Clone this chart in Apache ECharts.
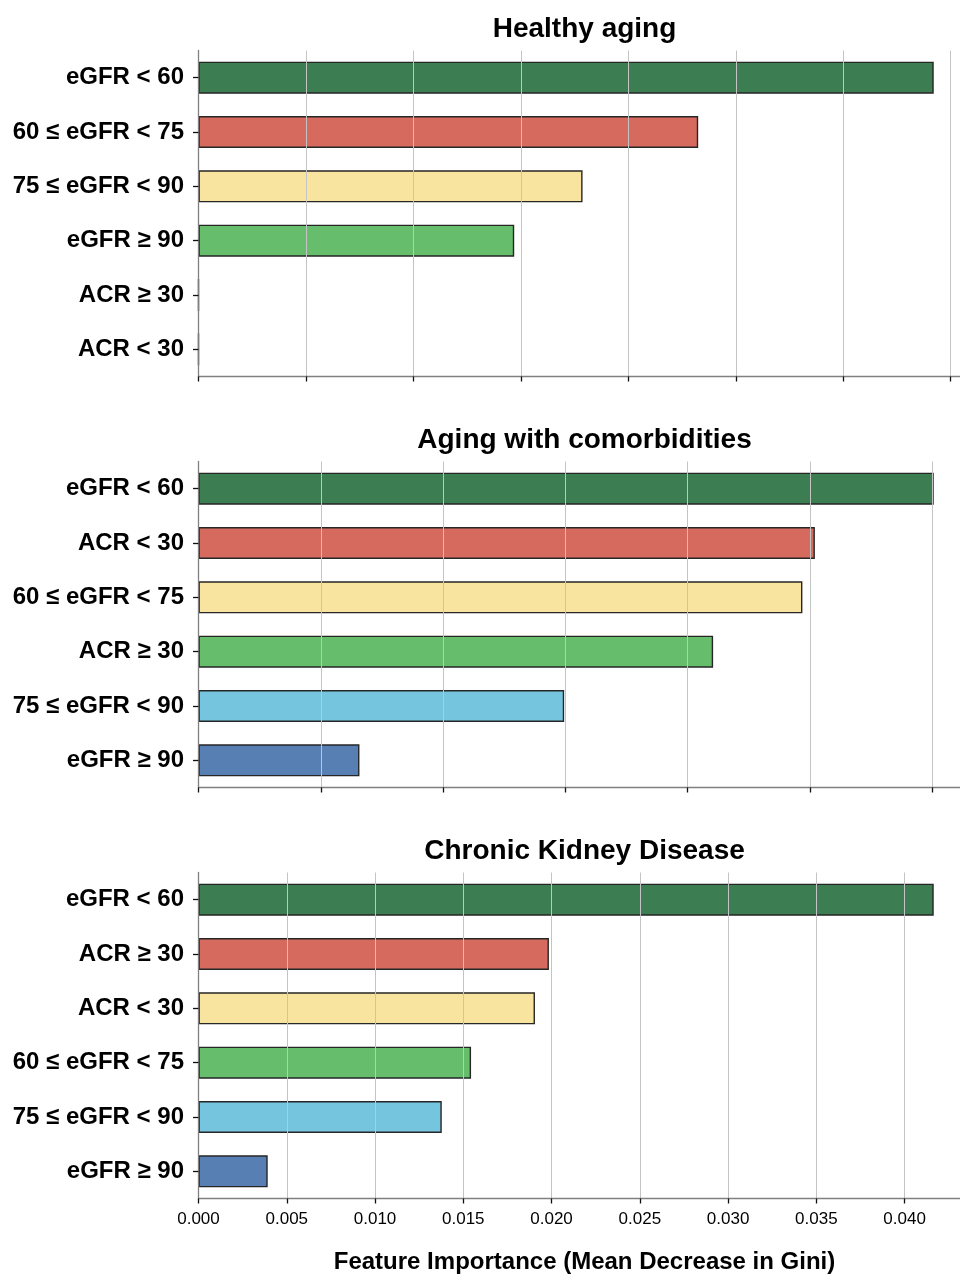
<!DOCTYPE html>
<html lang="en">
<head>
    <title>Feature Importance</title>
    <meta charset="utf-8" />
    <script src="https://cdn.jsdelivr.net/npm/echarts@6/dist/echarts.min.js"></script>
    <style>
        body {
            margin: 0;
            background-color: #ffffff;
        }

        #main {
            width: 960px;
            height: 1274px;
        }
    </style>
</head>
<body>
<div id="main"></div>
<script type="text/javascript">
    // panel titles
    let titles = ['Healthy aging', 'Aging with comorbidities', 'Chronic Kidney Disease']

    // categories, top to bottom
    let catsHealthy = ['eGFR < 60', '60 ≤ eGFR < 75', '75 ≤ eGFR < 90', 'eGFR ≥ 90', 'ACR ≥ 30', 'ACR < 30']
    let catsComorb = ['eGFR < 60', 'ACR < 30', '60 ≤ eGFR < 75', 'ACR ≥ 30', '75 ≤ eGFR < 90', 'eGFR ≥ 90']
    let catsCkd = ['eGFR < 60', 'ACR ≥ 30', 'ACR < 30', '60 ≤ eGFR < 75', '75 ≤ eGFR < 90', 'eGFR ≥ 90']

    // mean decrease in gini
    let valHealthy = [0.03421, 0.02325, 0.01787, 0.01469, 0, 0]
    let valComorb = [0.03006, 0.02520, 0.02469, 0.02104, 0.01495, 0.00658]
    let valCkd = [0.04165, 0.01985, 0.01906, 0.01544, 0.01378, 0.00392]

    let xName = 'Feature Importance (Mean Decrease in Gini)'

    let barColors = ['#3c7d52', '#d66a5e', '#f9e49f', '#66bd6c', '#76c5df', '#577fb4']
    let fontFamily = '"Liberation Sans", Arial, sans-serif'
    let gridLeft = 198.5
    let gridWidth = 772
    let gridHeight = 326
    let panelTops = [50.5, 461.5, 872.5]

    let allCats = [catsHealthy, catsComorb, catsCkd]
    let allVals = [valHealthy, valComorb, valCkd]

    let chart = echarts.init(document.getElementById('main'), null, {renderer: 'canvas'})

    let grids = []
    let xAxes = []
    let yAxes = []
    let series = []
    let titleList = []

    for (let i = 0; i < 3; i++) {
        let last = (i === 2)
        grids.push({
            left: gridLeft,
            width: gridWidth,
            top: panelTops[i],
            height: gridHeight,
            containLabel: false,
            outerBoundsMode: 'none',
        })
        titleList.push({
            text: titles[i],
            left: gridLeft + gridWidth / 2,
            top: panelTops[i] - 35,
            textAlign: 'center',
            padding: 0,
            textStyle: {
                fontFamily: fontFamily,
                fontSize: 28,
                fontWeight: 'bold',
                color: '#000',
            },
        })
        xAxes.push({
            type: 'value',
            gridIndex: i,
            min: 0,
            max: Math.max.apply(null, allVals[i]) * 1.05,
            interval: 0.005,
            z: 5,
            name: last ? xName : '',
            nameLocation: 'middle',
            nameGap: 52,
            nameTextStyle: {
                fontFamily: fontFamily,
                fontSize: 24,
                fontWeight: 'bold',
                color: '#000',
            },
            axisLine: {
                show: true,
                lineStyle: {color: '#808080', width: 1.3},
            },
            axisTick: {
                show: true,
                length: 5,
                lineStyle: {color: '#111', width: 1.3},
            },
            axisLabel: {
                show: last,
                showMaxLabel: false,
                margin: 12,
                fontFamily: fontFamily,
                fontSize: 17,
                color: '#000',
                formatter: function (v) {
                    return v.toFixed(3)
                },
            },
            splitLine: {
                show: true,
                lineStyle: {color: '#c4c4c4', width: 1},
            },
        })
        yAxes.push({
            type: 'category',
            gridIndex: i,
            inverse: true,
            data: allCats[i],
            z: 5,
            axisLine: {
                show: true,
                lineStyle: {color: '#808080', width: 1.3},
            },
            axisTick: {
                show: true,
                alignWithLabel: true,
                length: 5.5,
                lineStyle: {color: '#111', width: 1.3},
            },
            axisLabel: {
                margin: 14.5,
                fontFamily: fontFamily,
                fontSize: 24,
                fontWeight: 'bold',
                color: '#000',
            },
            splitLine: {show: false},
        })
        series.push({
            type: 'bar',
            xAxisIndex: i,
            yAxisIndex: i,
            barWidth: 32,
            data: allVals[i].map(function (v, k) {
                return {
                    value: v,
                    itemStyle: {color: barColors[k]},
                }
            }),
            itemStyle: {
                borderColor: '#262626',
                borderWidth: 1.4,
            },
            silent: true,
        })
    }

    chart.setOption({
        animation: false,
        title: titleList,
        grid: grids,
        xAxis: xAxes,
        yAxis: yAxes,
        series: series,
    })
</script>
</body>
</html>
